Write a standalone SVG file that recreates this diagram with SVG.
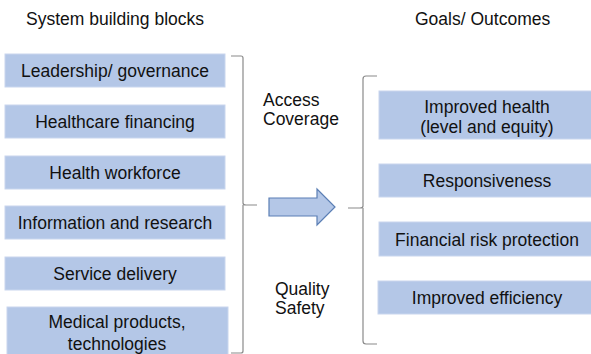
<svg xmlns="http://www.w3.org/2000/svg" width="591" height="354" viewBox="0 0 591 354">
<style>
text{font-family:"Liberation Sans",Arial,sans-serif;font-size:17.5px;fill:#111}
.box{fill:#b4c7e7;stroke:#c9d6ee;stroke-width:1}
.c{text-anchor:middle}
.br{fill:none;stroke:#8a8a8a;stroke-width:1.2}
</style>
<rect width="591" height="354" fill="#fff"/>
<text x="26" y="25">System building blocks</text>
<text x="415" y="25">Goals/ Outcomes</text>
<g id="b1"><rect class="box" x="5" y="54" width="220" height="33"/><text class="c" x="115" y="77">Leadership/ governance</text></g>
<g id="b2"><rect class="box" x="5" y="105" width="220" height="33"/><text class="c" x="115" y="128">Healthcare financing</text></g>
<g id="b3"><rect class="box" x="5" y="156" width="220" height="33"/><text class="c" x="115" y="179">Health workforce</text></g>
<g id="b4"><rect class="box" x="5" y="206" width="220" height="33"/><text class="c" x="115" y="229">Information and research</text></g>
<g id="b5"><rect class="box" x="5" y="257" width="220" height="33"/><text class="c" x="115" y="280">Service delivery</text></g>
<g id="b6"><rect class="box" x="7" y="307" width="221" height="50"/><text class="c" x="117" y="328">Medical products,</text><text class="c" x="117" y="350">technologies</text></g>
<g id="o1"><rect class="box" x="379" y="91" width="216" height="48"/><text class="c" x="487" y="113">Improved health</text><text class="c" x="487" y="133">(level and equity)</text></g>
<g id="o2"><rect class="box" x="379" y="164" width="216" height="33"/><text class="c" x="487" y="187">Responsiveness</text></g>
<g id="o3"><rect class="box" x="379" y="222" width="216" height="34"/><text class="c" x="487" y="245.5">Financial risk protection</text></g>
<g id="o4"><rect class="box" x="378" y="281" width="217" height="33"/><text class="c" x="487" y="304">Improved efficiency</text></g>
<g id="labels">
<text x="263" y="106">Access</text><text x="263" y="125">Coverage</text>
<text x="275" y="295">Quality</text><text x="275" y="314">Safety</text>
</g>
<g id="connectors">
<path class="br" d="M231,56 L241,56 Q243,56 243,58 L243,203 Q243,205 246,205 L257,205 M243,205 L243,351 Q243,353 241,353 L231,353"/>
<path class="br" d="M377,76 L366,76 Q363,76 363,79 L363,206 Q363,208 360,208 L348,208 M363,208 L363,341 Q363,344 366,344 L377,344"/>
<path id="arrow" d="M269,198 L317,198 L317,189 L335,207 L317,225 L317,216 L269,216 Z" fill="#b4c7e7" stroke="#5b7fb5" stroke-width="1.2"/>
</g>
</svg>
